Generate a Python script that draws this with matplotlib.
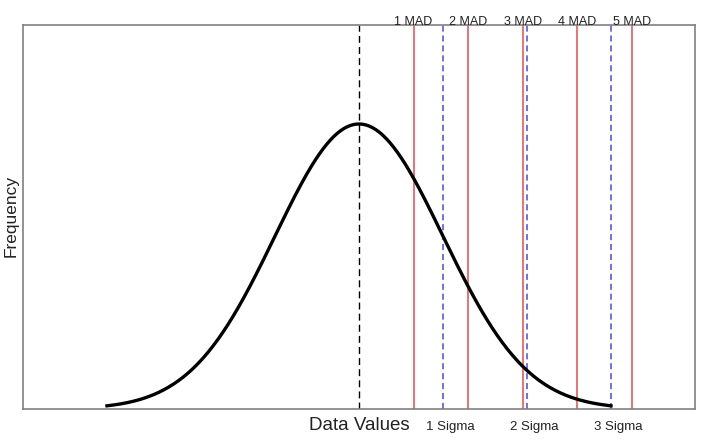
import numpy as np
import matplotlib.pyplot as plt
from matplotlib.transforms import offset_copy

plt.rcParams['font.family'] = ['Liberation Sans', 'DejaVu Sans']

# x axis in units of sigma, centred on the mean
mean = 0.0
sigma_pos = [1, 2, 3]
sigma_labels = ["1 Sigma", "2 Sigma", "3 Sigma"]
mad_pos = [0.65, 1.30, 1.95, 2.60, 3.25]
mad_labels = ["1 MAD", "2 MAD", "3 MAD", "4 MAD", "5 MAD"]

fig = plt.figure(figsize=(7.11, 4.41), dpi=100)
ax = fig.add_axes([0.0323, 0.0726, 0.9452, 0.8707])

x = np.linspace(-3, 3, 400)
y = np.exp(-0.5 * x**2) / np.sqrt(2 * np.pi)
ax.plot(x, y, color="black", lw=2.4, zorder=3)

ax.axvline(mean, color="black", lw=1, ls=(0, (5, 3)))
for p in mad_pos:
    ax.axvline(p, color="#e85a5a", lw=1.2)
for p in sigma_pos:
    ax.axvline(p, color="#4a4ae0", lw=1.1, ls=(0, (4, 2.5)))

ax.set_xlim(-4, 4)
ax.set_ylim(0, 0.5375)
ax.set_xticks([])
ax.set_yticks([])
for s in ax.spines.values():
    s.set_color("#808080")
    s.set_linewidth(1.2)

xtr = ax.get_xaxis_transform()
for p, t in zip(mad_pos, mad_labels):
    ax.text(p, 0.991, t, transform=xtr, ha="center",
            va="bottom", fontsize=9, color="#222222")
sig_tr = offset_copy(xtr, fig=fig, x=7, y=0, units="dots")
for p, t in zip(sigma_pos, sigma_labels):
    ax.text(p, -0.03, t, transform=sig_tr, ha="center",
            va="top", fontsize=9.5, color="#222222")

ax.text(mean, -0.02, "Data Values", transform=xtr,
        ha="center", va="top", fontsize=13.5, color="#222222")
fig.text(0.016, 0.51, "Frequency", rotation=90, ha="center", va="center",
         fontsize=12.5, color="#222222")

fig.savefig("out.png", dpi=100)
